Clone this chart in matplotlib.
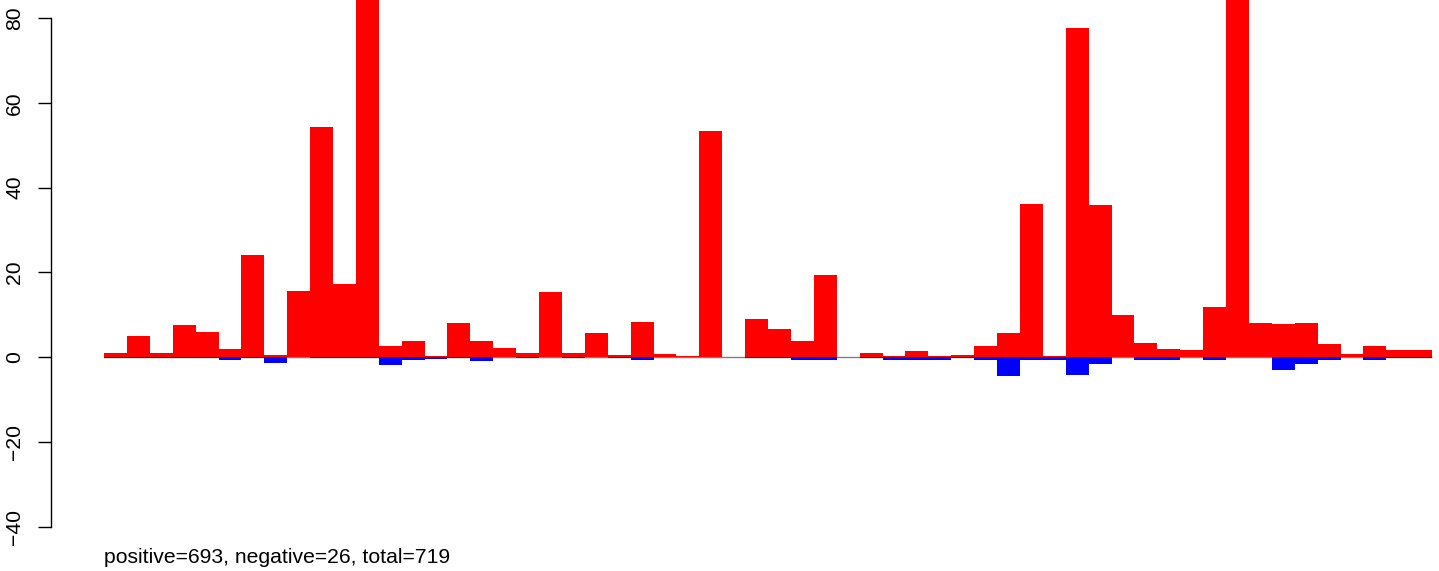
import matplotlib
matplotlib.use("Agg")
import matplotlib.pyplot as plt
import numpy as np

# values (one pair per bin)
positive = [1.0, 5.0, 1.0, 7.6, 5.9, 1.9, 24.1, 0.5, 15.6, 54.3,
            17.2, 90.0, 2.6, 3.8, 0.3, 8.0, 3.8, 2.1, 0.9, 15.3,
            0.9, 5.7, 0.5, 8.3, 0.7, 0.3, 53.3, 0.1, 9.0, 6.6,
            3.8, 19.4, 0.0, 1.0, 0.3, 1.4, 0.3, 0.5, 2.6, 5.7,
            36.1, 0.3, 77.6, 35.9, 9.9, 3.3, 1.9, 1.7, 11.8, 90.0,
            8.0, 7.8, 8.0, 3.1, 0.8, 2.6, 1.7, 1.7]
negative = [-0.3, -0.3, -0.3, -0.3, -0.3, -0.7, -0.3, -1.3, 0.0, -0.3,
            -0.3, -0.3, -2.0, -0.8, -0.5, -0.3, -0.9, 0.0, -0.3, 0.0,
            -0.3, 0.0, -0.3, -0.6, 0.0, 0.0, 0.0, 0.0, -0.3, -0.3,
            -0.6, -0.6, 0.0, -0.3, -0.6, -0.8, -0.8, -0.3, -0.6, -4.5,
            -0.8, -0.8, -4.2, -1.6, 0.0, -0.6, -0.6, 0.0, -0.8, 0.0,
            0.0, -3.1, -1.6, -0.8, 0.0, -0.6, -0.3, -0.3]
yticks = [-40, -20, 0, 20, 40, 60, 80]
caption = "positive=693, negative=26, total=719"

plt.rcParams['font.family'] = ['Liberation Sans', 'DejaVu Sans']

fig = plt.figure(figsize=(14.39, 5.71), dpi=100)
ax = fig.add_axes([51 / 1439, 0, 1388 / 1439, 1])

x = np.arange(len(positive))
ax.hlines(0, 0, len(positive), color='gray', lw=1, zorder=1)
ax.bar(x, positive, width=1, align='edge', color='red', linewidth=0, zorder=2)
ax.bar(x, negative, width=1, align='edge', color='blue', linewidth=0, zorder=2)

ax.set_xlim(-2.315, 58.30)
ax.set_ylim(-50.5, 84.25)

for s in ['top', 'right', 'bottom']:
    ax.spines[s].set_visible(False)
ax.spines['left'].set_bounds(-40, 80)
ax.spines['left'].set_linewidth(1)
ax.set_xticks([])
ax.set_yticks(yticks)
ax.set_yticklabels([str(t).replace('-', '\u2212') for t in yticks])
ax.tick_params(axis='y', length=9.4, width=1, pad=10, labelsize=15.2)
for lab in ax.get_yticklabels():
    lab.set_rotation(90)
    lab.set_va('center')
    lab.set_ha('right')

ax.text(0, -47.4, caption, fontsize=15.2, ha='left', va='center')

fig.savefig("out.png", dpi=100)
